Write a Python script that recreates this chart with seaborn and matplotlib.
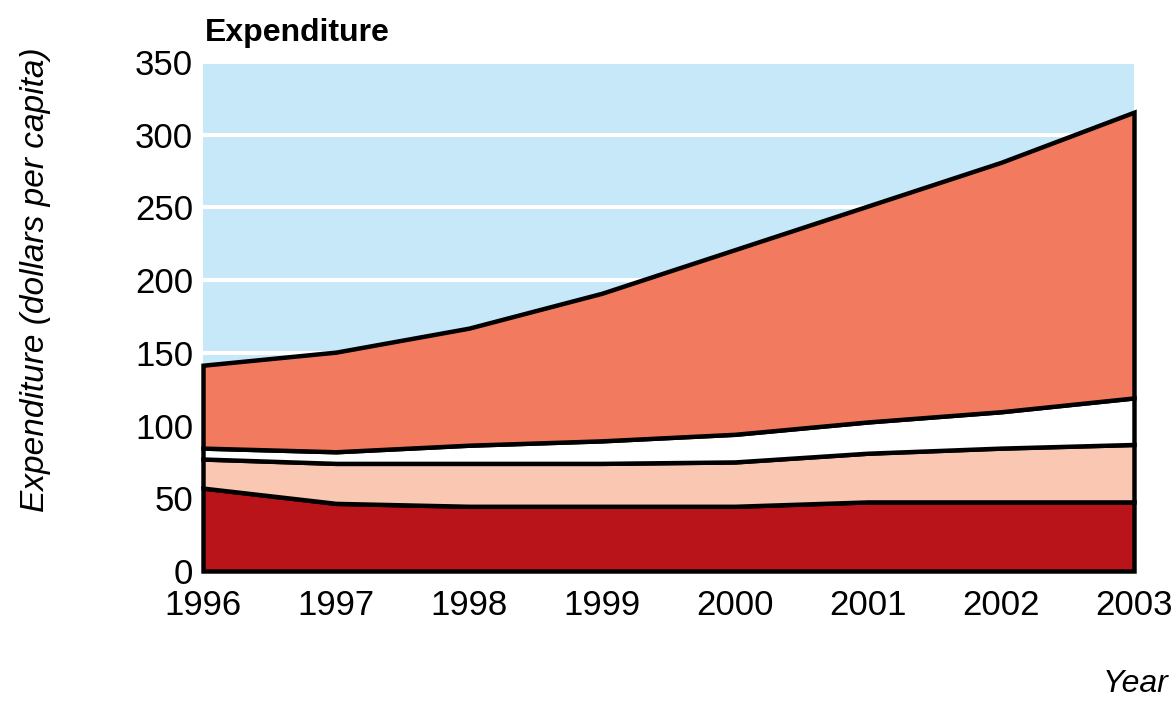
import numpy as np
import pandas as pd
import matplotlib
matplotlib.use("Agg")
import matplotlib.pyplot as plt
import seaborn as sns
from matplotlib import font_manager

# ---- data ----
years = [1996, 1997, 1998, 1999, 2000, 2001, 2002, 2003]
layer_dark = [57, 46.5, 44.5, 44.5, 44.5, 47.5, 47.5, 47.5]
layer_pink = [20, 27.5, 29.5, 29.5, 30.5, 33.5, 37, 39.5]
layer_white = [7.5, 8, 12.5, 15.5, 19, 21.5, 25, 32]
layer_salmon = [57, 68.5, 80.5, 101.5, 127, 148.5, 171.5, 196.5]
layer_colors = ["#B8141A", "#F9C7B2", "#FFFFFF", "#F27B5F"]
yticks = [0, 50, 100, 150, 200, 250, 300, 350]
title = "Expenditure"
ylabel = "Expenditure (dollars per capita)"
xlabel = "Year"

sns.set_theme(style="darkgrid", rc={
    "axes.facecolor": "#C6E8F8",
    "grid.color": "white",
    "grid.linewidth": 3.0,
    "figure.facecolor": "white",
    "text.color": "black",
})
plt.rcParams["font.family"] = ["Liberation Sans", "DejaVu Sans"]

names = {f.name for f in font_manager.fontManager.ttflist}
narrow = "Liberation Sans Narrow" in names

fig = plt.figure(figsize=(11.75, 7.01), dpi=100)
ax = fig.add_axes([203 / 1175, 130 / 701, (1134 - 203) / 1175, (571 - 62) / 701])

df = pd.DataFrame({"year": years, "dark": layer_dark, "pink": layer_pink,
                   "white": layer_white, "salmon": layer_salmon})
polys = ax.stackplot(df["year"], df["dark"], df["pink"], df["white"], df["salmon"],
                     colors=layer_colors, edgecolor="black", linewidth=3.2, zorder=3)
for p in polys:
    p.set_clip_on(False)
    p.set_joinstyle("miter")

ax.set_xlim(years[0], years[-1])
ax.set_ylim(0, 350)
ax.set_xticks(years)
ax.set_xticklabels([str(y) for y in years])
ax.set_yticks(yticks)
ax.set_yticklabels([str(t) for t in yticks])
ax.xaxis.grid(False)
ax.yaxis.grid(True)
ax.set_axisbelow(True)
for s in ax.spines.values():
    s.set_visible(False)
ax.tick_params(axis="both", length=0, labelsize=25, colors="black")
ax.tick_params(axis="y", pad=7)
ax.tick_params(axis="x", pad=13)
ax.set_xlabel("")
ax.set_ylabel("")

if narrow:
    fig.text(205 / 1175, 1 - 41 / 701, title, fontsize=29, fontweight="bold",
             family=["Liberation Sans Narrow", "Liberation Sans"],
             ha="left", va="baseline", color="black")
else:
    fig.text(205 / 1175, 1 - 41 / 701, title, fontsize=23, fontweight="bold",
             ha="left", va="baseline", color="black")
fig.text(36 / 1175, 1 - 280 / 701, ylabel, fontsize=24, style="italic",
         rotation=90, ha="center", va="center", color="black")
fig.text(1168 / 1175, 1 - 692 / 701, xlabel, fontsize=23, style="italic",
         ha="right", va="baseline", color="black")

fig.savefig("out.png", dpi=100)
